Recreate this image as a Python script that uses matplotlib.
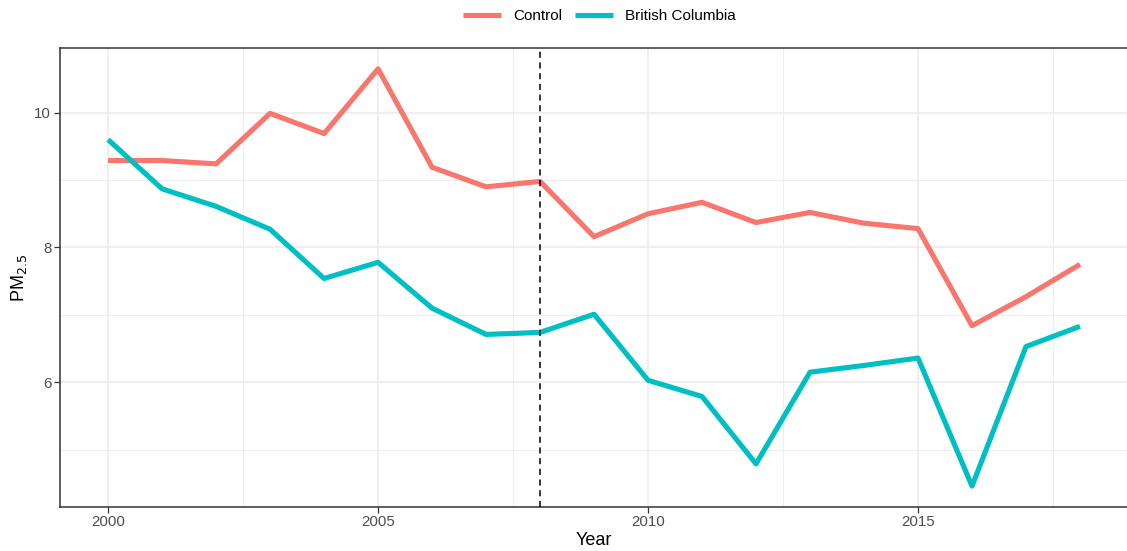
import numpy as np
import matplotlib.pyplot as plt
from matplotlib.ticker import MultipleLocator

plt.rcParams['font.family'] = ['Liberation Sans', 'DejaVu Sans']

years = list(range(2000, 2019))
control = [9.29, 9.29, 9.24, 9.99, 9.69, 10.65, 9.19, 8.90, 8.98, 8.16,
           8.50, 8.67, 8.37, 8.52, 8.36, 8.28, 6.84, 7.27, 7.75]
british_columbia = [9.60, 8.87, 8.61, 8.27, 7.54, 7.78, 7.10, 6.71, 6.74, 7.01,
                    6.03, 5.79, 4.79, 6.15, 6.25, 6.36, 4.46, 6.53, 6.83]
policy_year = 2008

fig = plt.figure(figsize=(11.27, 5.51), dpi=100)
ax = fig.add_axes([0.0528, 0.0799, 0.9486, 0.833])

ax.plot(years, control, color='#F8766D', lw=3.7, label='Control',
        solid_joinstyle='round', solid_capstyle='butt', zorder=3)
ax.plot(years, british_columbia, color='#00BFC4', lw=3.7, label='British Columbia',
        solid_joinstyle='round', solid_capstyle='butt', zorder=3)
ax.axvline(policy_year, color='black', lw=1.1, ls=(0, (4, 3)), zorder=4)

# ggplot-style 5% padding around the data
lo = min(min(control), min(british_columbia))
hi = max(max(control), max(british_columbia))
pad = (hi - lo) * 0.05
ax.set_ylim(lo - pad, hi + pad)
ax.set_xlim(years[0] - 0.05 * (years[-1] - years[0]), years[-1] + 0.05 * (years[-1] - years[0]))

ax.xaxis.set_major_locator(MultipleLocator(5))
ax.xaxis.set_minor_locator(MultipleLocator(2.5))
ax.yaxis.set_major_locator(MultipleLocator(2))
ax.yaxis.set_minor_locator(MultipleLocator(1))
ax.grid(which='major', color='#EBEBEB', lw=1.1, zorder=0)
ax.grid(which='minor', color='#EBEBEB', lw=0.6, zorder=0)
ax.set_axisbelow(True)
ax.tick_params(which='minor', length=0)
ax.tick_params(which='major', length=4, width=0.9, color='#333333',
               labelsize=10.8, labelcolor='#4D4D4D', pad=2)
for s in ax.spines.values():
    s.set_color('#333333')
    s.set_linewidth(1.1)

ax.set_xlabel('Year', fontsize=13, labelpad=2)
ax.set_ylabel('PM$_{2.5}$', fontsize=13, labelpad=4)

fig.legend(loc='upper center', bbox_to_anchor=(0.532, 1.008), ncol=2, frameon=False,
           fontsize=11, handlelength=2.5, handletextpad=0.8, columnspacing=0.8)

fig.savefig('out.png', dpi=100)
